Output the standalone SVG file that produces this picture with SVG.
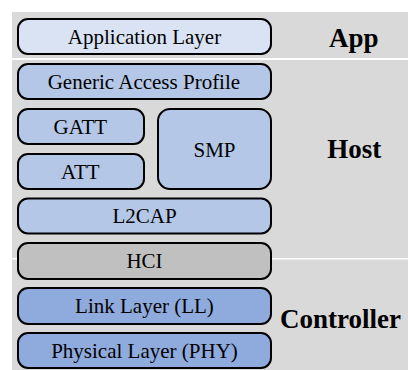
<svg xmlns="http://www.w3.org/2000/svg" width="408" height="370" viewBox="0 0 408 370">
  <defs>
    <style>
      .panel { fill: #d9d9d9; }
      .box { stroke: #000; stroke-width: 2; }
    </style>
  </defs>

  <!-- section bands -->
  <g id="bands">
    <rect class="panel" x="12" y="12" width="396" height="46"/>
    <rect class="panel" x="12" y="60" width="396" height="198"/>
    <rect class="panel" x="12" y="259.5" width="396" height="110.5"/>
  </g>

  <!-- section titles (left-aligned at measured positions) -->
  <g id="titles">
    <text x="329" y="46.7" font-family="Liberation Serif" font-size="27" font-weight="bold">App</text>
    <text x="327.3" y="157.7" font-family="Liberation Serif" font-size="27" font-weight="bold">Host</text>
    <text x="280" y="328.3" font-family="Liberation Serif" font-size="27" font-weight="bold">Controller</text>
  </g>

  <g id="connectors"/>

  <!-- protocol stack layers -->
  <g id="layers">
    <g id="application-layer">
      <rect class="box" fill="#dae3f3" x="18" y="19" width="253" height="35" rx="10"/>
      <text x="67.8" y="43.8" font-family="Liberation Serif" font-size="21">Application Layer</text>
    </g>
    <g id="gap">
      <rect class="box" fill="#b4c7e7" x="18" y="64" width="253" height="35" rx="10"/>
      <text x="47.7" y="88.8" font-family="Liberation Serif" font-size="21">Generic Access Profile</text>
    </g>
    <g id="gatt">
      <rect class="box" fill="#b4c7e7" x="18" y="109" width="126" height="35" rx="10"/>
      <text x="53.5" y="133.8" font-family="Liberation Serif" font-size="21">GATT</text>
    </g>
    <g id="att">
      <rect class="box" fill="#b4c7e7" x="18" y="154" width="126" height="35" rx="10"/>
      <text x="61.1" y="178.8" font-family="Liberation Serif" font-size="21">ATT</text>
    </g>
    <g id="smp">
      <rect class="box" fill="#b4c7e7" x="158" y="109" width="113" height="80" rx="12"/>
      <text x="193.5" y="156.5" font-family="Liberation Serif" font-size="21">SMP</text>
    </g>
    <g id="l2cap">
      <rect class="box" fill="#b4c7e7" x="18" y="198.5" width="253" height="35" rx="10"/>
      <text x="112.4" y="223.3" font-family="Liberation Serif" font-size="21">L2CAP</text>
    </g>
    <g id="hci">
      <rect class="box" fill="#c0c0c0" x="18" y="243" width="253" height="36" rx="10"/>
      <text x="126.4" y="268.3" font-family="Liberation Serif" font-size="21">HCI</text>
    </g>
    <g id="link-layer">
      <rect class="box" fill="#8faadc" x="18" y="288" width="253" height="36" rx="10"/>
      <text x="75.1" y="313.3" font-family="Liberation Serif" font-size="21">Link Layer (LL)</text>
    </g>
    <g id="physical-layer">
      <rect class="box" fill="#8faadc" x="18" y="333" width="253" height="35" rx="10"/>
      <text x="51.2" y="357.8" font-family="Liberation Serif" font-size="21">Physical Layer (PHY)</text>
    </g>
  </g>
</svg>
